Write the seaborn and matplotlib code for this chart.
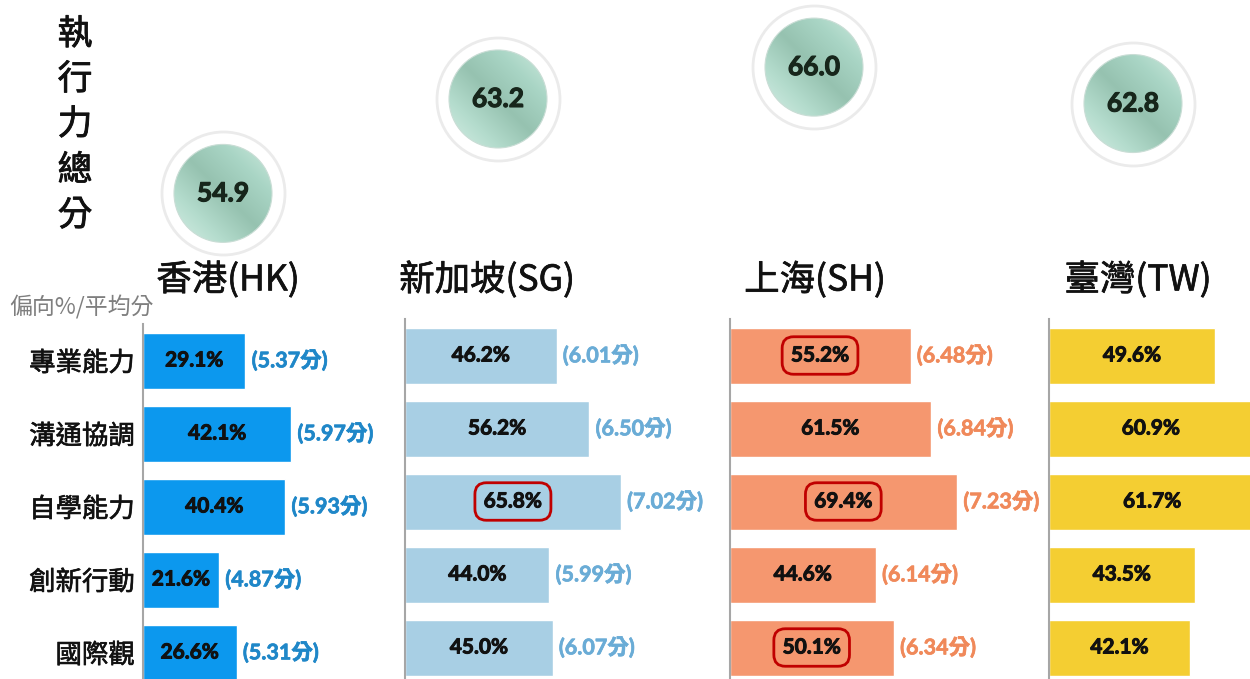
import numpy as np
import pandas as pd
import matplotlib
matplotlib.use("Agg")
import matplotlib.pyplot as plt
import matplotlib.patheffects as pe
import seaborn as sns
from matplotlib.patches import Ellipse
from matplotlib.colors import LinearSegmentedColormap

# ---------------- data ----------------
categories = ["專業能力", "溝通協調", "自學能力", "創新行動", "國際觀"]
regions = ["香港(HK)", "新加坡(SG)", "上海(SH)", "臺灣(TW)"]
totals = [54.9, 63.2, 66.0, 62.8]

hk_pct = [29.1, 42.1, 40.4, 21.6, 26.6]
hk_score = [5.37, 5.97, 5.93, 4.87, 5.31]
sg_pct = [46.2, 56.2, 65.8, 44.0, 45.0]
sg_score = [6.01, 6.50, 7.02, 5.99, 6.07]
sh_pct = [55.2, 61.5, 69.4, 44.6, 50.1]
sh_score = [6.48, 6.84, 7.23, 6.14, 6.34]
tw_pct = [49.6, 60.9, 61.7, 43.5, 42.1]

sg_highlight = [2]
sh_highlight = [0, 2, 4]

title_text = "執行力總分"
unit_text = "偏向%/平均分"

# ---------------- style ----------------
sns.set_style("white")
plt.rcParams["font.family"] = ["Lato", "Noto Sans CJK TC", "DejaVu Sans"]
CJK = ["Noto Sans CJK TC", "DejaVu Sans"]
NUM = ["Lato", "Noto Sans CJK TC", "DejaVu Sans"]


def thick(color, lw):
    return [pe.withStroke(linewidth=lw, foreground=color)]


W, H = 1250, 679
fig = plt.figure(figsize=(W / 100, H / 100), dpi=100)
fig.patch.set_facecolor("white")


def add_ax_px(left, top, width, height):
    return fig.add_axes([left / W, 1 - (top + height) / H, width / W, height / H])


ROW_PX = 73.0
panels = [
    dict(pct=hk_pct, score=hk_score, left=143, top=324, width=250, ppu=3.52,
         bar="#0c98ee", txt="#1f87c8", hl=[], show_cats=True),
    dict(pct=sg_pct, score=sg_score, left=405, top=319, width=300, ppu=3.28,
         bar="#a8cfe4", txt="#6aacd6", hl=sg_highlight, show_cats=False),
    dict(pct=sh_pct, score=sh_score, left=729.5, top=319, width=300, ppu=3.28,
         bar="#f5976f", txt="#f0895a", hl=sh_highlight, show_cats=False),
    dict(pct=tw_pct, score=None, left=1049, top=319, width=201, ppu=3.345,
         bar="#f4ce32", txt="#000000", hl=[], show_cats=False),
]

for p in panels:
    ax = add_ax_px(p["left"], p["top"], p["width"], ROW_PX * 5)
    df = pd.DataFrame({"cat": categories, "pct": p["pct"]})
    sns.barplot(data=df, x="pct", y="cat", orient="h", color=p["bar"],
                saturation=1, width=56 / ROW_PX, ax=ax, order=categories)
    ax.set_xlim(0, p["width"] / p["ppu"])
    ax.set_ylim(4.5, -0.5)
    ax.set_xlabel("")
    ax.set_ylabel("")
    ax.set_xticks([])
    for s in ["top", "right", "bottom"]:
        ax.spines[s].set_visible(False)
    ax.spines["left"].set_color("#a6a6a6")
    ax.spines["left"].set_linewidth(1.5)
    ax.patch.set_alpha(0)
    ax.tick_params(axis="y", length=0, pad=6)
    if p["show_cats"]:
        ax.set_yticks(range(len(categories)))
        ax.set_yticklabels(categories, fontsize=19, family=CJK,
                           color="#111111")
        for lab in ax.get_yticklabels():
            lab.set_path_effects(thick("#111111", 0.45))
    else:
        ax.set_yticks([])
    for i, v in enumerate(p["pct"]):
        kw = {}
        if i in p["hl"]:
            kw["bbox"] = dict(boxstyle="round,pad=0.42,rounding_size=0.55",
                              fc="none", ec="#c00000", lw=2)
        ax.text(v / 2, i, f"{v:.1f}%", ha="center", va="center",
                fontsize=15, fontweight="bold", family=NUM, color="#111111",
                path_effects=thick("#111111", 0.7), **kw)
        if p["score"] is not None:
            ax.annotate(f"({p['score'][i]:.2f}分)", xy=(v, i),
                        xytext=(4.5, 0), textcoords="offset points",
                        ha="left", va="center", fontsize=15.5,
                        fontweight="bold", family=NUM, color=p["txt"],
                        path_effects=thick(p["txt"], 0.5),
                        annotation_clip=False)

# ---------------- total-score circles ----------------
circle_x = [223, 498, 814, 1133]      # horizontal placement (px)
ax_c = add_ax_px(0, 0, W, 300)
ax_c.set_axis_off()
y_top, y_bot = 71.90, 45.53
ax_c.set_xlim(0, W)
ax_c.set_ylim(y_bot, y_top)
ppu_y = 300.0 / (y_top - y_bot)

sns.scatterplot(x=circle_x, y=totals, s=(123 * 0.72) ** 2, color="white",
                edgecolor="#ebebeb", linewidth=2, ax=ax_c, legend=False,
                zorder=1)

cmap = LinearSegmentedColormap.from_list(
    "mint", ["#d6eee6", "#b4dccd", "#96c2b0", "#a9d5c5", "#cdeade"])
gx, gy = np.meshgrid(np.linspace(0, 1, 200), np.linspace(0, 1, 200))
grad = (gx + (1 - gy)) / 2
r = 49
for cx, tot in zip(circle_x, totals):
    h = 2 * r / ppu_y
    ell = Ellipse((cx, tot), width=2 * r, height=h, facecolor="none",
                  edgecolor="#c9ddd5", lw=0.8, zorder=3)
    ax_c.add_patch(ell)
    im = ax_c.imshow(grad, cmap=cmap, extent=[cx - r, cx + r, tot - h / 2, tot + h / 2],
                     aspect="auto", zorder=2, interpolation="bilinear", origin="upper")
    im.set_clip_path(ell)
    ax_c.text(cx, tot, f"{tot:.1f}", ha="center", va="center", fontsize=19,
              fontweight="bold", family=NUM, color="#17261b", zorder=4,
              path_effects=thick("#17261b", 0.8))
ax_c.set_xlim(0, W)
ax_c.set_ylim(y_bot, y_top)

# ---------------- titles / labels ----------------
title_x = [228, 487, 815, 1138]
for tx, name in zip(title_x, regions):
    fig.text(tx / W, 1 - 280 / H, name, ha="center", va="center",
             fontsize=25.5, family=CJK, color="#111111",
             path_effects=thick("#111111", 0.5))

title_y = [35, 80, 125, 171, 216]
for ch, ty in zip(title_text, title_y):
    fig.text(75 / W, 1 - ty / H, ch, ha="center", va="center",
             fontsize=25, family=CJK, color="#111111",
             path_effects=thick("#111111", 0.6))

fig.text(9 / W, 1 - 307 / H, unit_text, ha="left", va="center",
         fontsize=16.5, family=CJK, color="#7f7f7f")

fig.savefig("out.png", dpi=100, facecolor="white")
